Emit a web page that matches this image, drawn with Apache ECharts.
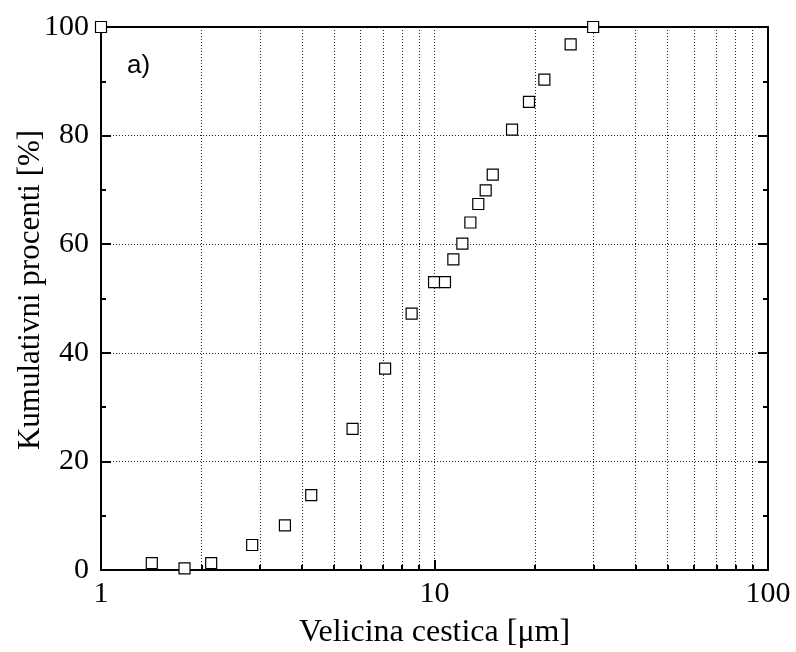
<!DOCTYPE html>
<html lang="sr">
<head>
    <meta charset="UTF-8">
    <title>Kumulativni procenti</title>
    <script src="https://cdn.jsdelivr.net/npm/echarts@6/dist/echarts.min.js"></script>
    <style>
        html, body { margin: 0; padding: 0; background: #fff; }
        #chart_wrap { width: 796px; height: 652px; }
    </style>
</head>
<body>
<div id="chart_wrap"></div>
<script type="text/javascript">
// podaci (ocitano sa slike)
var size_um = [1.0, 1.42, 1.78, 2.14, 2.84, 3.56, 4.27, 5.68, 7.11, 8.54, 9.97, 10.75,
               11.39, 12.12, 12.81, 13.53, 14.24, 14.95, 17.08, 19.2, 21.35, 25.6, 29.9];
var cum_pct = [100, 1.25, 0.3, 1.25, 4.6, 8.2, 13.8, 26.0, 37.1, 47.2, 53.0, 53.0,
               57.2, 60.1, 64.0, 67.4, 69.9, 72.8, 81.1, 86.2, 90.3, 96.8, 100];
var x_major = [1, 10, 100];
var x_minor = [2, 3, 4, 5, 6, 7, 8, 9, 10, 20, 30, 40, 50, 60, 70, 80, 90];

var points = [];
for (var i = 0; i < size_um.length; i++) {
    points.push([size_um[i], cum_pct[i]]);
}

var serif = "'Liberation Serif', 'Times New Roman', serif";
var black = "#000";

var chart = echarts.init(document.getElementById("chart_wrap"));
var option = {
    backgroundColor: "#fff",
    animation: false,
    grid: { left: 101, right: 28, top: 27, bottom: 82, outerBoundsMode: "none" },
    graphic: [{
        type: "text",
        left: 127,
        top: 53,
        style: { text: "a)", font: "26px 'Liberation Sans', Arial, sans-serif", fill: black }
    }],
    xAxis: [
        {
            // glavna osa: oznake i duze crtice
            type: "log",
            min: 1,
            max: 100,
            position: "bottom",
            name: "Velicina cestica [\u03bcm]",
            nameLocation: "middle",
            nameGap: 47,
            nameMoveOverlap: false,
            nameTextStyle: { fontFamily: serif, fontSize: 32, color: black },
            axisLine: { show: true, lineStyle: { color: black, width: 2 } },
            axisTick: { show: true, inside: true, length: 10, customValues: x_major, lineStyle: { color: black, width: 2 } },
            axisLabel: { customValues: x_major, fontFamily: serif, fontSize: 30, color: black, margin: 9 },
            splitLine: { show: false }
        },
        {
            // sporedne crtice i mreza
            type: "log",
            min: 1,
            max: 100,
            position: "bottom",
            axisLine: { show: false },
            axisTick: { show: true, inside: true, length: 5, customValues: x_minor, lineStyle: { color: black, width: 2 } },
            axisLabel: { show: false },
            splitLine: { show: true, lineStyle: { color: "#222", width: 1, type: [1, 2] } }
        },
        {
            type: "log",
            min: 1,
            max: 100,
            position: "top",
            axisLine: { show: true, lineStyle: { color: black, width: 2 } },
            axisTick: { show: false },
            axisLabel: { show: false },
            splitLine: { show: false }
        }
    ],
    yAxis: [
        {
            type: "value",
            min: 0,
            max: 100,
            interval: 20,
            position: "left",
            name: "Kumulativni procenti [%]",
            nameLocation: "middle",
            nameGap: 55,
            nameMoveOverlap: false,
            nameTextStyle: { fontFamily: serif, fontSize: 31, color: black, padding: [0, 0, 0, 17] },
            axisLine: { show: true, lineStyle: { color: black, width: 2 } },
            axisTick: { show: true, inside: true, length: 10, lineStyle: { color: black, width: 2 } },
            minorTick: { show: true, splitNumber: 2, length: 5, lineStyle: { color: black, width: 2 } },
            axisLabel: { fontFamily: serif, fontSize: 30, color: black, margin: 12 },
            splitLine: { show: true, lineStyle: { color: "#222", width: 1, type: [1, 2] } }
        },
        {
            type: "value",
            min: 0,
            max: 100,
            interval: 20,
            position: "right",
            axisLine: { show: true, lineStyle: { color: black, width: 2 } },
            axisTick: { show: true, inside: true, length: 10, lineStyle: { color: black, width: 2 } },
            minorTick: { show: true, splitNumber: 2, length: 5, lineStyle: { color: black, width: 2 } },
            axisLabel: { show: false },
            splitLine: { show: false }
        }
    ],
    series: [
        {
            name: "Kumulativni procenti",
            type: "scatter",
            xAxisIndex: 0,
            yAxisIndex: 0,
            data: points,
            symbol: "rect",
            symbolSize: 11,
            itemStyle: { color: "#fff", borderColor: black, borderWidth: 1.2, opacity: 1 },
            z: 5
        }
    ]
};

chart.setOption(option);
</script>
</body>
</html>
